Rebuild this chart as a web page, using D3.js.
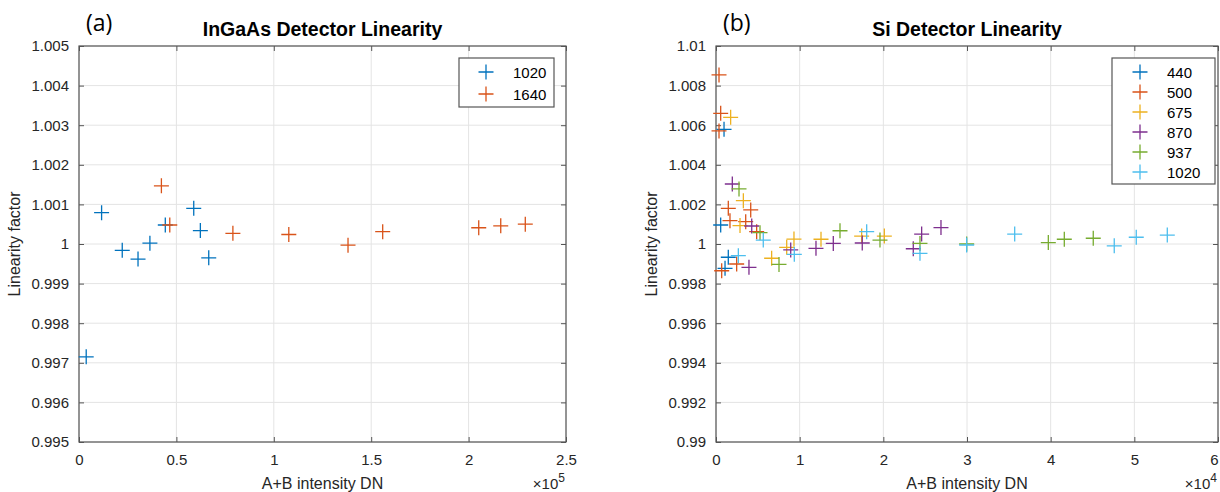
<!DOCTYPE html>
<html><head><meta charset="utf-8">
<script src="https://cdn.jsdelivr.net/npm/d3@7"></script>
<style>
body{margin:0;background:#fff;}
svg{display:block;font-family:"Liberation Sans",Arial,sans-serif;}
</style></head>
<body><svg id="c" width="1220" height="492"></svg>
<script>
// ---------- data ----------
// (a) InGaAs, x in units of 1e5 DN
const ingaSeries = ["1020", "1640"];
const inga1020X = [0.037, 0.116, 0.222, 0.303, 0.364, 0.443, 0.589, 0.623, 0.666];
const inga1020Y = [0.99715, 1.00079, 0.99984, 0.99962, 1.00002, 1.00048, 1.00090, 1.00034, 0.99965];
const inga1640X = [0.423, 0.466, 0.790, 1.077, 1.381, 1.559, 2.052, 2.165, 2.291];
const inga1640Y = [1.00147, 1.00048, 1.00027, 1.00024, 0.99997, 1.00031, 1.00041, 1.00046, 1.00050];
const ingaXTicks = [0, 0.5, 1, 1.5, 2, 2.5];
const ingaYTicks = [0.995, 0.996, 0.997, 0.998, 0.999, 1, 1.001, 1.002, 1.003, 1.004, 1.005];

// (b) Si, x in units of 1e4 DN
const siSeries = ["440", "500", "675", "870", "937", "1020"];
const si440X = [0.056, 0.096, 0.108, 0.147];
const si440Y = [1.00096, 1.00579, 0.99877, 0.99933];
const si500X = [0.036, 0.056, 0.036, 0.068, 0.147, 0.167, 0.247, 0.355, 0.415, 0.486];
const si500Y = [1.00854, 1.0066, 1.00571, 0.99865, 1.0018, 1.00118, 0.99899, 1.00113, 1.00172, 1.00062];
const si675X = [0.175, 0.287, 0.327, 0.665, 0.845, 0.932, 1.255, 1.741, 2.012];
const si675Y = [1.0064, 1.00093, 1.00219, 0.99928, 0.99983, 1.00025, 1.00024, 1.0004, 1.0004];
const si870X = [0.195, 0.394, 0.427, 0.893, 1.195, 1.402, 1.748, 2.358, 2.458, 2.689];
const si870Y = [1.00303, 0.99882, 1.00091, 0.9997, 0.99978, 1.00003, 1.00005, 0.99976, 1.0005, 1.00083];
const si937X = [0.275, 0.526, 0.753, 1.482, 1.960, 2.438, 2.996, 3.972, 4.163, 4.509];
const si937Y = [1.00278, 1.00057, 0.99897, 1.00067, 1.0002, 1.00003, 1.0, 1.00007, 1.00024, 1.00029];
const si1020X = [0.267, 0.565, 0.936, 1.801, 2.438, 2.996, 3.570, 4.760, 5.023, 5.394];
const si1020Y = [0.99941, 1.0002, 0.99948, 1.00062, 0.99953, 0.99995, 1.0005, 0.99991, 1.00034, 1.00045];
const siXTicks = [0, 1, 2, 3, 4, 5, 6];
const siYTicks = [0.99, 0.992, 0.994, 0.996, 0.998, 1, 1.002, 1.004, 1.006, 1.008, 1.01];

const colors = ["#0072BD", "#D95319", "#EDB120", "#7E2F8E", "#77AC30", "#4DBEEE"];

// ---------- drawing ----------
const svg = d3.select("#c");
const axisColor = "#555";
const gridColor = "#e4e4e4";

function fmt(v){ return String(+v.toFixed(4)); }

function panel(o){
  const x = d3.scaleLinear().domain(o.xd).range([o.left, o.right]);
  const y = d3.scaleLinear().domain(o.yd).range([o.bottom, o.top]);
  const g = svg.append("g");
  // grid
  g.selectAll(".gx").data(o.xt).join("line")
    .attr("x1", d=>x(d)).attr("x2", d=>x(d)).attr("y1", o.top).attr("y2", o.bottom)
    .attr("stroke", gridColor).attr("stroke-width", 1);
  g.selectAll(".gy").data(o.yt).join("line")
    .attr("y1", d=>y(d)).attr("y2", d=>y(d)).attr("x1", o.left).attr("x2", o.right)
    .attr("stroke", gridColor).attr("stroke-width", 1);
  // axes with inward ticks on all sides
  const tl = 5;
  const ab = g.append("g").attr("transform", `translate(0,${o.bottom})`)
    .call(d3.axisBottom(x).tickValues(o.xt).tickSizeInner(-tl).tickSizeOuter(0).tickPadding(12).tickFormat(fmt));
  const at = g.append("g").attr("transform", `translate(0,${o.top})`)
    .call(d3.axisTop(x).tickValues(o.xt).tickSizeInner(-tl).tickSizeOuter(0).tickFormat(""));
  const al = g.append("g").attr("transform", `translate(${o.left},0)`)
    .call(d3.axisLeft(y).tickValues(o.yt).tickSizeInner(-tl).tickSizeOuter(0).tickPadding(10).tickFormat(fmt));
  const ar = g.append("g").attr("transform", `translate(${o.right},0)`)
    .call(d3.axisRight(y).tickValues(o.yt).tickSizeInner(-tl).tickSizeOuter(0).tickFormat(""));
  [ab, at, al, ar].forEach(a=>{
    a.select(".domain").remove();
    a.selectAll("line").attr("stroke", axisColor);
    a.selectAll("text").attr("fill", "#262626").style("font-size", "15px").style("font-family", '"Liberation Sans",Arial,sans-serif');
  });
  // keep the last x tick label inside the picture
  if (o.nudgeLast) {
    ab.selectAll(".tick text").filter((d,i,n)=>i === n.length - 1).attr("dx", -o.nudgeLast);
  }
  g.append("rect").attr("x", o.left).attr("y", o.top)
    .attr("width", o.right - o.left).attr("height", o.bottom - o.top)
    .attr("fill", "none").attr("stroke", axisColor).attr("stroke-width", 1.2);
  // points
  const ms = 7.5;
  o.series.forEach((s, i)=>{
    const pts = s.x.map((v, k)=>[v, s.y[k]]);
    g.selectAll(null).data(pts).join("path")
      .attr("d", d=>{
        const cx = x(d[0]), cy = y(d[1]);
        return `M${cx-ms},${cy}H${cx+ms}M${cx},${cy-ms}V${cy+ms}`;
      })
      .attr("stroke", colors[i]).attr("stroke-width", 1.3).attr("fill", "none");
  });
  // labels
  const cx = (o.left + o.right) / 2;
  g.append("text").attr("x", cx).attr("y", 36).attr("text-anchor", "middle")
    .style("font-size", "19.5px").style("font-weight", "bold").attr("fill", "#000").text(o.title);
  g.append("text").attr("x", o.left + 7).attr("y", 31)
    .style("font-family", '"Open Sans",sans-serif').style("font-size", "23px").attr("fill", "#000").text(o.tag);
  g.append("text").attr("x", cx).attr("y", 489).attr("text-anchor", "middle")
    .style("font-size", "16px").attr("fill", "#262626").text("A+B intensity DN");
  g.append("text").attr("transform", `translate(${o.left - 59},${(o.top+o.bottom)/2}) rotate(-90)`)
    .attr("text-anchor", "middle").style("font-size", "16px").attr("fill", "#262626").text("Linearity factor");
  const ex = g.append("text").attr("x", o.right - 1).attr("y", 489).attr("text-anchor", "end")
    .style("font-size", "15px").attr("fill", "#262626");
  ex.append("tspan").text("\u00d710");
  ex.append("tspan").attr("dy", -7).style("font-size", "12px").text(o.exp);
  // legend
  const lg = g.append("g");
  lg.append("rect").attr("x", o.lg.x).attr("y", o.lg.y).attr("width", o.lg.w).attr("height", o.lg.h)
    .attr("fill", "#fff").attr("stroke", axisColor).attr("stroke-width", 1.2);
  o.series.forEach((s, i)=>{
    const yy = o.lg.y + 14 + i * o.lg.dy;
    const mx = o.lg.x + o.lg.mx;
    lg.append("path").attr("d", `M${mx-ms},${yy}H${mx+ms}M${mx},${yy-ms}V${yy+ms}`)
      .attr("stroke", colors[i]).attr("stroke-width", 1.3);
    lg.append("text").attr("x", o.lg.x + o.lg.tx).attr("y", yy + 5.5)
      .style("font-size", "15px").attr("fill", "#000").text(s.name);
  });
}

panel({
  left: 79, right: 566, top: 46, bottom: 442,
  xd: [0, 2.5], yd: [0.995, 1.005], xt: ingaXTicks, yt: ingaYTicks,
  title: "InGaAs Detector Linearity", tag: "(a)", exp: "5",
  series: [
    {name: ingaSeries[0], x: inga1020X, y: inga1020Y},
    {name: ingaSeries[1], x: inga1640X, y: inga1640Y}
  ],
  lg: {x: 459, y: 58, w: 95, h: 49, dy: 22, mx: 27, tx: 54}
});

panel({
  left: 716, right: 1218, top: 46, bottom: 442,
  xd: [0, 6], yd: [0.99, 1.01], xt: siXTicks, yt: siYTicks,
  title: "Si Detector Linearity", tag: "(b)", exp: "4", nudgeLast: 4,
  series: [
    {name: siSeries[0], x: si440X, y: si440Y},
    {name: siSeries[1], x: si500X, y: si500Y},
    {name: siSeries[2], x: si675X, y: si675Y},
    {name: siSeries[3], x: si870X, y: si870Y},
    {name: siSeries[4], x: si937X, y: si937Y},
    {name: siSeries[5], x: si1020X, y: si1020Y}
  ],
  lg: {x: 1112, y: 58, w: 103, h: 126, dy: 20, mx: 28, tx: 55}
});
</script>
</body></html>
